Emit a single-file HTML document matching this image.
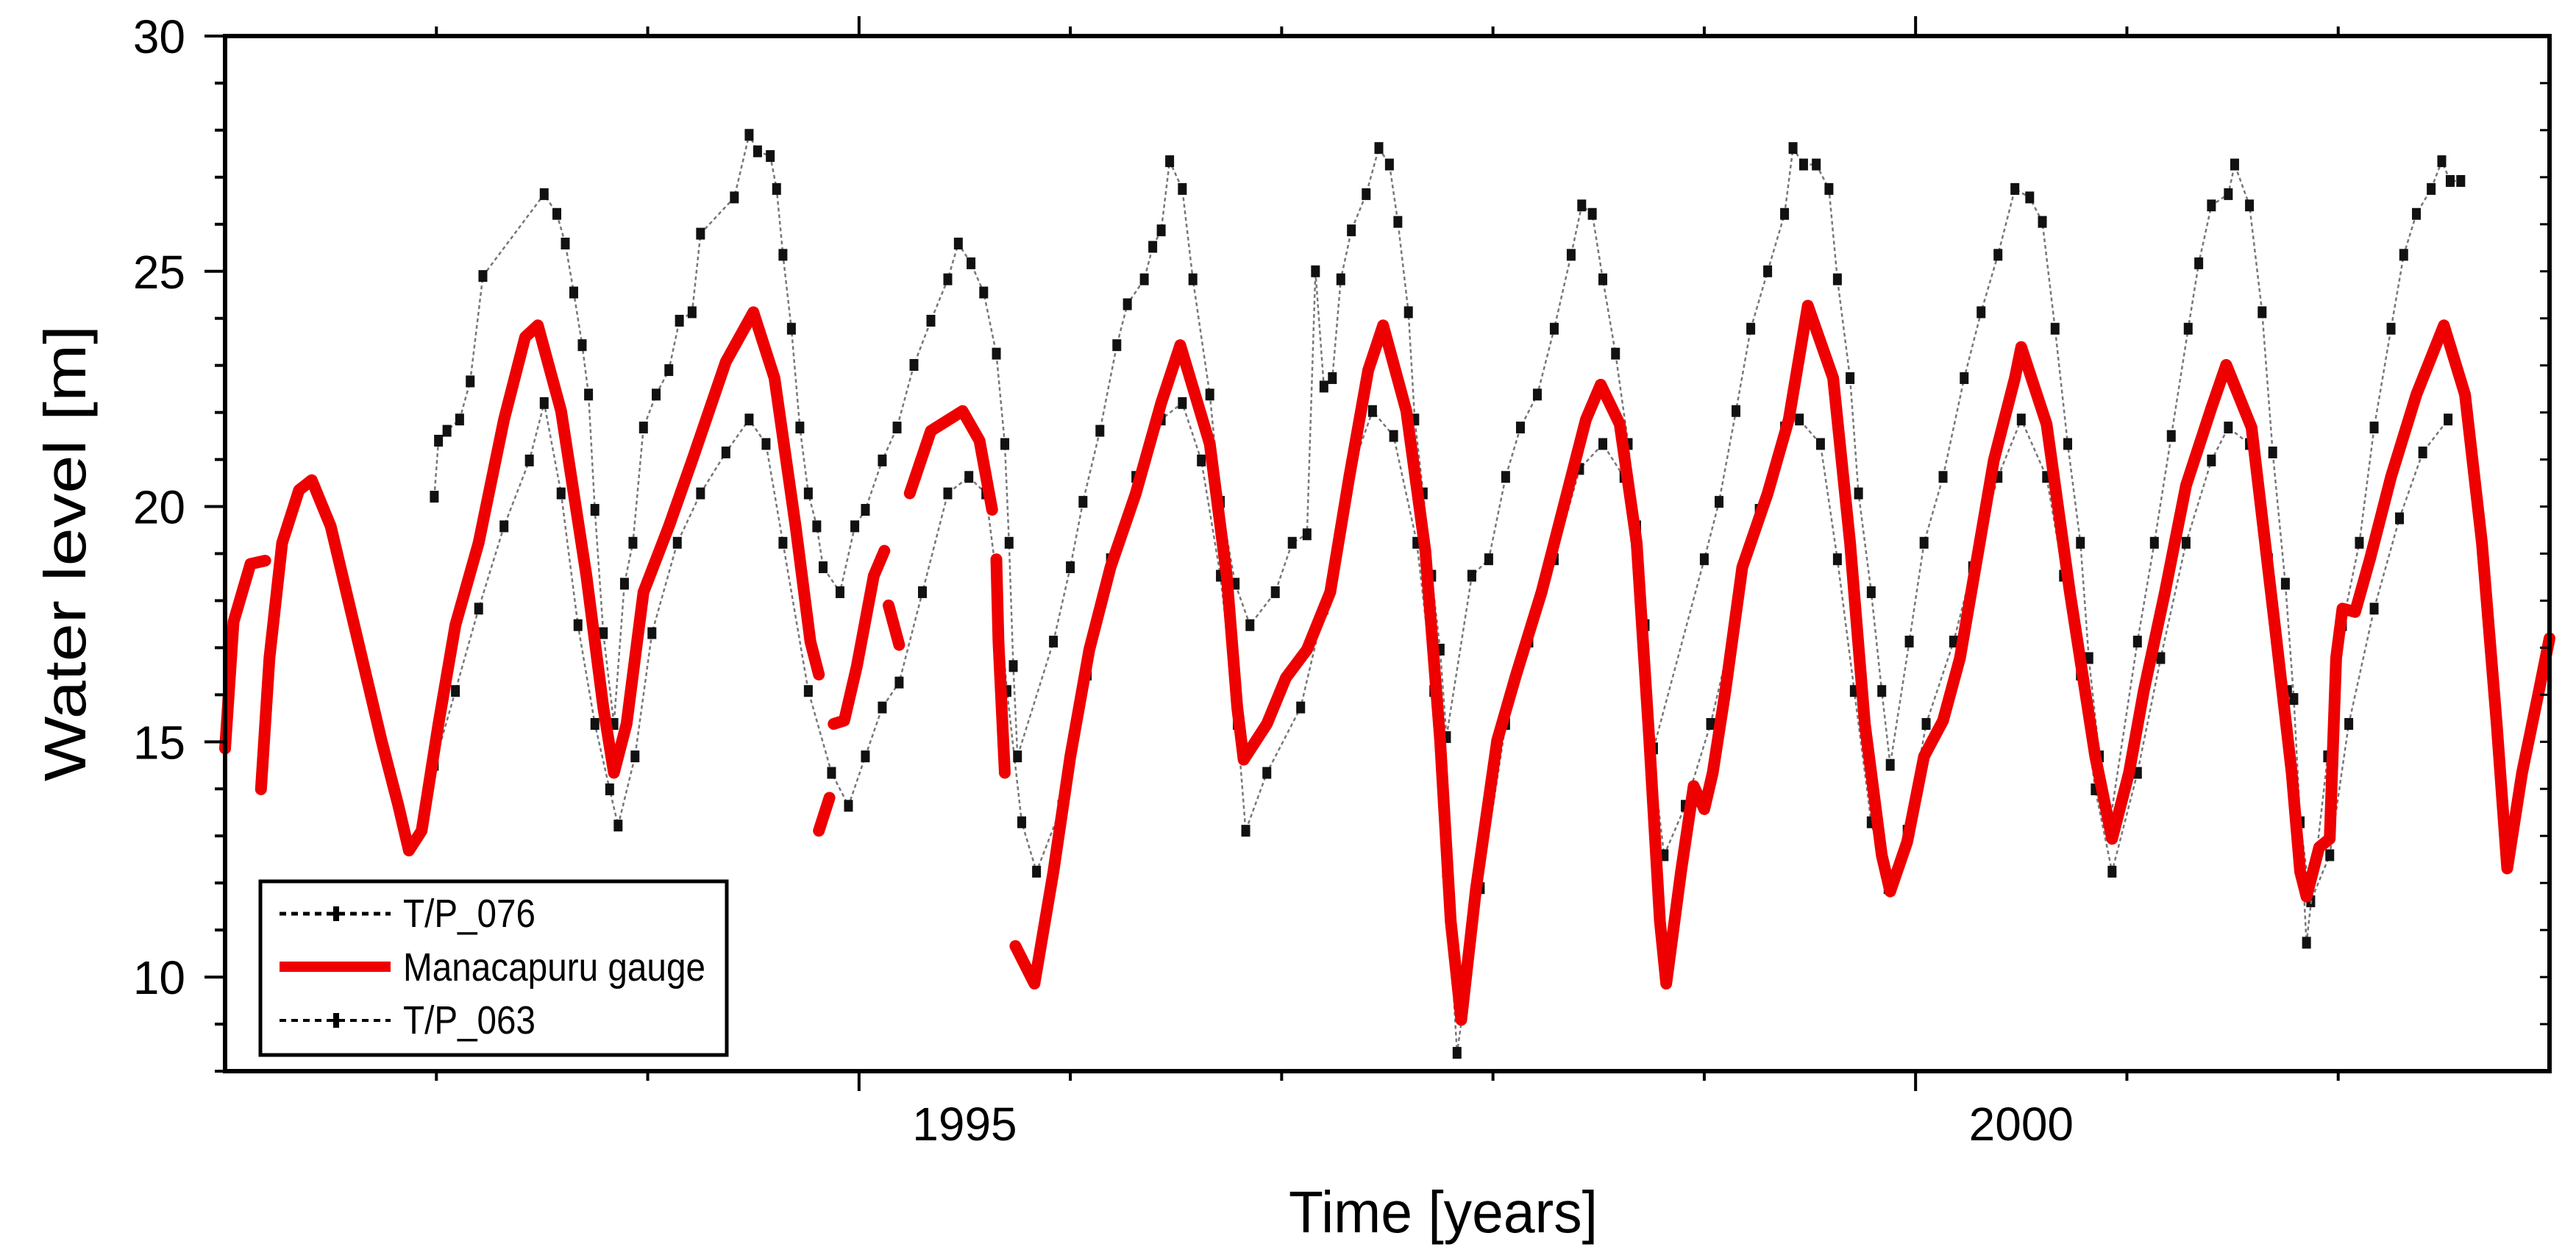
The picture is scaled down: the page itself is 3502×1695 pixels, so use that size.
<!DOCTYPE html>
<html><head><meta charset="utf-8">
<style>
html,body{margin:0;padding:0;background:#fff;}
svg{display:block;font-family:"Liberation Sans",Arial,sans-serif;}
</style></head>
<body>
<svg id="chart" width="3502" height="1695" viewBox="0 0 3502 1695" xmlns="http://www.w3.org/2000/svg">
<rect x="0" y="0" width="3502" height="1695" fill="#fff"/>
<g id="series"></g>
<g id="axes"></g>
<text x="0" y="0" transform="translate(116,752) rotate(-90)" font-size="80" text-anchor="middle" textLength="620" lengthAdjust="spacingAndGlyphs">Water level [m]</text>
<text x="1962" y="1700" font-size="80" text-anchor="middle" textLength="420" lengthAdjust="spacingAndGlyphs" dy="-25">Time [years]</text>
<g>
<rect x="354" y="1198" width="634" height="236" fill="#fff" stroke="#000" stroke-width="5"/>
<g>
<line x1="380" y1="1242" x2="531" y2="1242" stroke="#000" stroke-width="5" stroke-dasharray="9,7"/>
<rect x="453" y="1232" width="8" height="20" fill="#000"/>
<text x="548" y="1260" font-size="54" textLength="180" lengthAdjust="spacingAndGlyphs">T/P_076</text>
</g>
<g>
<line x1="380" y1="1314" x2="531" y2="1314" stroke="#e00" stroke-width="14"/>
<text x="548" y="1333" font-size="54" textLength="411" lengthAdjust="spacingAndGlyphs">Manacapuru gauge</text>
</g>
<g>
<line x1="380" y1="1387" x2="531" y2="1387" stroke="#000" stroke-width="4" stroke-dasharray="9,7"/>
<rect x="453" y="1377" width="8" height="20" fill="#000"/>
<text x="548" y="1405" font-size="54" textLength="180" lengthAdjust="spacingAndGlyphs">T/P_063</text>
</g>
</g>
</svg>
<script>
// Data arrays (decimal year, metres)
const gaugeYears = [1992.00,1992.04,1992.12,1992.19,null,1992.17,1992.21,1992.27,1992.35,1992.41,1992.50,1992.62,1992.74,1992.82,1992.87,1992.93,1993.01,1993.09,1993.20,1993.32,1993.42,1993.48,1993.59,1993.71,1993.79,1993.84,1993.90,1993.98,1994.10,1994.21,1994.37,1994.50,1994.60,1994.70,1994.77,1994.81,null,1994.81,1994.86,null,1994.88,1994.93,1994.99,1995.07,1995.12,null,1995.14,1995.19,null,1995.24,1995.34,1995.49,1995.57,1995.63,null,1995.65,1995.66,1995.69,null,1995.74,1995.83,1995.92,1996.00,1996.09,1996.19,1996.31,1996.43,1996.52,1996.66,1996.74,1996.79,1996.82,1996.93,1997.02,1997.12,1997.23,1997.32,1997.41,1997.48,1997.59,1997.68,1997.75,1997.80,1997.85,1997.92,1998.02,1998.11,1998.23,1998.34,1998.44,1998.51,1998.60,1998.68,1998.74,1998.79,1998.82,1998.89,1998.95,1999.00,1999.04,1999.10,1999.18,1999.30,1999.40,1999.49,1999.61,1999.69,1999.76,1999.84,1999.88,1999.96,2000.04,2000.13,2000.21,2000.29,2000.37,2000.47,2000.50,2000.62,2000.73,2000.85,2000.93,2001.01,2001.08,2001.18,2001.28,2001.40,2001.47,2001.59,2001.70,2001.78,2001.82,2001.85,2001.91,2001.96,2001.99,2002.02,2002.08,2002.15,2002.25,2002.37,2002.50,2002.60,2002.68,2002.75,2002.80,2002.87,2002.95,2003.00];
const gaugeLevels = [14.86,17.55,18.78,18.85,null,13.99,16.78,19.23,20.35,20.56,19.58,17.31,15.03,13.64,12.69,13.11,15.38,17.48,19.23,21.85,23.60,23.85,22.03,18.53,15.73,14.34,15.38,18.18,19.58,20.98,23.08,24.13,22.73,19.58,17.13,16.43,null,13.11,13.81,null,15.38,15.45,16.61,18.53,19.06,null,17.90,17.06,null,20.28,21.61,22.03,21.40,19.93,null,18.88,17.13,14.34,null,10.66,9.86,12.24,14.69,16.96,18.71,20.28,22.20,23.43,21.33,18.53,15.73,14.62,15.38,16.36,16.96,18.18,20.63,22.90,23.85,22.03,19.06,15.03,11.19,9.09,11.89,15.03,16.43,18.18,20.10,21.85,22.59,21.75,19.23,15.03,11.19,9.86,12.24,14.06,13.57,14.34,16.08,18.71,20.28,21.85,24.27,22.73,19.23,15.38,12.59,11.82,12.87,14.69,15.45,16.78,18.88,20.98,22.73,23.39,21.75,18.18,14.69,12.94,14.34,16.08,18.18,20.45,22.10,23.01,21.68,17.48,14.34,12.24,11.71,12.76,12.94,16.78,17.83,17.76,18.88,20.63,22.38,23.85,22.38,19.23,15.38,12.31,14.34,16.08,17.20];
const tp076Years = [1992.99,1993.01,1993.05,1993.11,1993.16,1993.22,1993.51,1993.57,1993.61,1993.65,1993.69,1993.72,1993.75,1993.79,1993.84,1993.89,1993.93,1993.98,1994.04,1994.10,1994.15,1994.21,1994.25,1994.41,1994.48,1994.52,1994.58,1994.61,1994.64,1994.68,1994.72,1994.76,1994.80,1994.83,1994.91,1994.98,1995.03,1995.11,1995.18,1995.26,1995.34,1995.42,1995.47,1995.53,1995.59,1995.65,1995.69,1995.71,1995.73,1995.75,1995.92,1996.00,1996.06,1996.14,1996.22,1996.27,1996.35,1996.39,1996.43,1996.47,1996.53,1996.58,1996.66,1996.71,1996.78,1996.85,1996.97,1997.05,1997.12,1997.16,1997.20,1997.24,1997.28,1997.33,1997.40,1997.46,1997.51,1997.55,1997.60,1997.63,1997.67,1997.71,1997.75,1997.78,1997.90,1997.98,1998.06,1998.13,1998.21,1998.29,1998.37,1998.42,1998.47,1998.52,1998.58,1998.64,1998.68,1998.72,1998.76,1999.00,1999.07,1999.15,1999.22,1999.30,1999.38,1999.42,1999.47,1999.53,1999.59,1999.63,1999.69,1999.73,1999.79,1999.84,1999.88,1999.97,2000.04,2000.13,2000.23,2000.31,2000.39,2000.47,2000.54,2000.60,2000.66,2000.72,2000.78,2000.82,2000.87,2000.92,2001.05,2001.13,2001.21,2001.29,2001.34,2001.40,2001.48,2001.51,2001.58,2001.64,2001.69,2001.75,2001.79,2001.85,2001.95,2002.02,2002.10,2002.17,2002.25,2002.31,2002.37,2002.44,2002.49,2002.53,2002.58];
const tp076Levels = [20.21,21.40,21.61,21.85,22.66,24.90,26.64,26.22,25.59,24.55,23.43,22.38,19.93,17.31,15.38,18.36,19.23,21.68,22.38,22.90,23.95,24.13,25.80,26.57,27.90,27.55,27.45,26.75,25.35,23.78,21.68,20.28,19.58,18.71,18.18,19.58,19.93,20.98,21.68,23.01,23.95,24.83,25.59,25.17,24.55,23.25,21.33,19.23,16.61,14.69,17.13,18.71,20.10,21.61,23.43,24.30,24.83,25.52,25.87,27.34,26.75,24.83,22.38,20.10,18.36,17.48,18.18,19.23,19.41,25.00,22.55,22.73,24.83,25.87,26.64,27.62,27.27,26.05,24.13,21.85,20.28,18.53,16.96,15.10,18.53,18.88,20.63,21.68,22.38,23.78,25.35,26.40,26.22,24.83,23.25,21.33,19.58,17.48,14.86,18.88,20.10,22.03,23.78,25.00,26.22,27.62,27.27,27.27,26.75,24.83,22.73,20.28,18.18,16.08,14.51,17.13,19.23,20.63,22.73,24.13,25.35,26.75,26.57,26.05,23.78,21.33,19.23,16.78,14.69,13.29,17.13,19.23,21.50,23.78,25.17,26.40,26.64,27.27,26.40,24.13,21.15,18.36,15.91,10.73,14.69,17.48,19.23,21.68,23.78,25.35,26.22,26.75,27.34,26.92,26.92];
const tp063Years = [1992.99,1993.09,1993.20,1993.32,1993.44,1993.51,1993.59,1993.67,1993.75,1993.82,1993.86,1993.94,1994.02,1994.14,1994.25,1994.37,1994.48,1994.56,1994.64,1994.76,1994.87,1994.95,1995.03,1995.11,1995.19,1995.30,1995.42,1995.52,1995.60,1995.66,1995.70,1995.77,1995.84,1995.96,1996.08,1996.19,1996.31,1996.43,1996.53,1996.62,1996.71,1996.79,1996.83,1996.93,1997.09,1997.20,1997.32,1997.43,1997.53,1997.64,1997.72,1997.78,1997.83,1997.94,1998.06,1998.17,1998.29,1998.41,1998.52,1998.62,1998.70,1998.75,1998.81,1998.91,1999.03,1999.14,1999.26,1999.38,1999.45,1999.55,1999.63,1999.71,1999.79,1999.87,1999.96,2000.05,2000.18,2000.27,2000.39,2000.50,2000.62,2000.70,2000.78,2000.85,2000.93,2001.05,2001.16,2001.28,2001.40,2001.48,2001.58,2001.67,2001.76,2001.82,2001.87,2001.96,2002.05,2002.17,2002.29,2002.40,2002.52];
const tp063Levels = [14.51,16.08,17.83,19.58,20.98,22.20,20.28,17.48,15.38,13.99,13.22,14.69,17.31,19.23,20.28,21.15,21.85,21.33,19.23,16.08,14.34,13.64,14.69,15.73,16.26,18.18,20.28,20.63,20.28,18.18,16.08,13.29,12.24,13.64,16.43,18.88,20.63,21.85,22.20,20.98,18.53,15.38,13.11,14.34,15.73,17.83,20.63,22.03,21.50,19.23,16.08,12.24,8.39,11.89,15.38,17.13,18.88,20.80,21.33,20.63,17.48,14.86,12.59,13.64,15.38,17.48,19.93,21.68,21.85,21.33,18.88,16.08,13.29,11.89,13.11,15.38,17.13,18.71,20.63,21.85,20.63,18.53,16.43,13.99,12.24,14.34,16.78,19.23,20.98,21.68,21.33,18.88,16.08,13.29,11.61,12.59,15.38,17.83,19.75,21.15,21.85];
const yTickValues = [10,15,20,25,30];
const xLabelYears = [1995,2000];

const NS = 'http://www.w3.org/2000/svg';
const X0 = 306, X1 = 3466, Y0 = 1456, Y1 = 49;
const xMin = 1992, xMax = 2003, yMin = 8, yMax = 30;
const sx = v => X0 + (v - xMin) / (xMax - xMin) * (X1 - X0);
const sy = v => Y0 - (v - yMin) / (yMax - yMin) * (Y0 - Y1);
function mk(tag, attrs, parent) {
  const e = document.createElementNS(NS, tag);
  for (const k in attrs) e.setAttribute(k, attrs[k]);
  parent.appendChild(e);
  return e;
}
const series = document.getElementById('series');
const axes = document.getElementById('axes');

function pathFrom(xs, ys) {
  let d = '', pen = false;
  for (let i = 0; i < xs.length; i++) {
    if (xs[i] === null) { pen = false; continue; }
    d += (pen ? 'L' : 'M') + sx(xs[i]).toFixed(1) + ',' + sy(ys[i]).toFixed(1);
    pen = true;
  }
  return d;
}
function blackSeries(xs, ys, name) {
  const g = mk('g', {}, series);
  
  
  const p = mk('path', {d: pathFrom(xs, ys), fill: 'none', stroke: '#777', 'stroke-width': 2.5, 'stroke-dasharray': '5,4'}, g);
  
  
  for (let i = 0; i < xs.length; i++) {
    const r = mk('rect', {x: sx(xs[i]) - 6, y: sy(ys[i]) - 8, width: 12, height: 16, fill: '#111'}, g);
    
    
  }
}
blackSeries(tp063Years, tp063Levels, 'tp063-series');
blackSeries(tp076Years, tp076Levels, 'tp076-series');
const gp = mk('path', {d: pathFrom(gaugeYears, gaugeLevels), fill: 'none', stroke: '#ee0000', 'stroke-width': 16, 'stroke-linejoin': 'round', 'stroke-linecap': 'round'}, series);



// frame
const fr = mk('rect', {x: X0, y: Y1, width: X1 - X0, height: Y0 - Y1, fill: 'none', stroke: '#000', 'stroke-width': 6}, axes);


// y ticks
for (let v = yMin; v <= yMax; v++) {
  const major = v % 5 === 0;
  const t = mk('line', {x1: X0 - (major ? 28 : 14), x2: X0, y1: sy(v), y2: sy(v), stroke: '#000', 'stroke-width': 4}, axes);
  
  
  const t2 = mk('line', {x1: X1 - 13, x2: X1, y1: sy(v), y2: sy(v), stroke: '#000', 'stroke-width': 3}, axes);
  
  
}
yTickValues.forEach(v => {
  const tx = mk('text', {x: 252, y: sy(v) + 23, 'font-size': 64, 'text-anchor': 'end'}, axes);
  tx.textContent = v;
  
  
});
// x ticks
for (let yr = xMin + 1; yr < xMax; yr++) {
  const major = yr % 5 === 0;
  const len = major ? 27 : 13;
  const b = mk('line', {x1: sx(yr), x2: sx(yr), y1: Y0, y2: Y0 + len, stroke: '#000', 'stroke-width': 4}, axes);
  
  
  const t = mk('line', {x1: sx(yr), x2: sx(yr), y1: Y1, y2: Y1 - len, stroke: '#000', 'stroke-width': 4}, axes);
  
  
}
xLabelYears.forEach(yr => {
  const tx = mk('text', {x: sx(yr + 0.5), y: 1550, 'font-size': 64, 'text-anchor': 'middle'}, axes);
  tx.textContent = yr;
  
  
});
</script>
</body></html>
